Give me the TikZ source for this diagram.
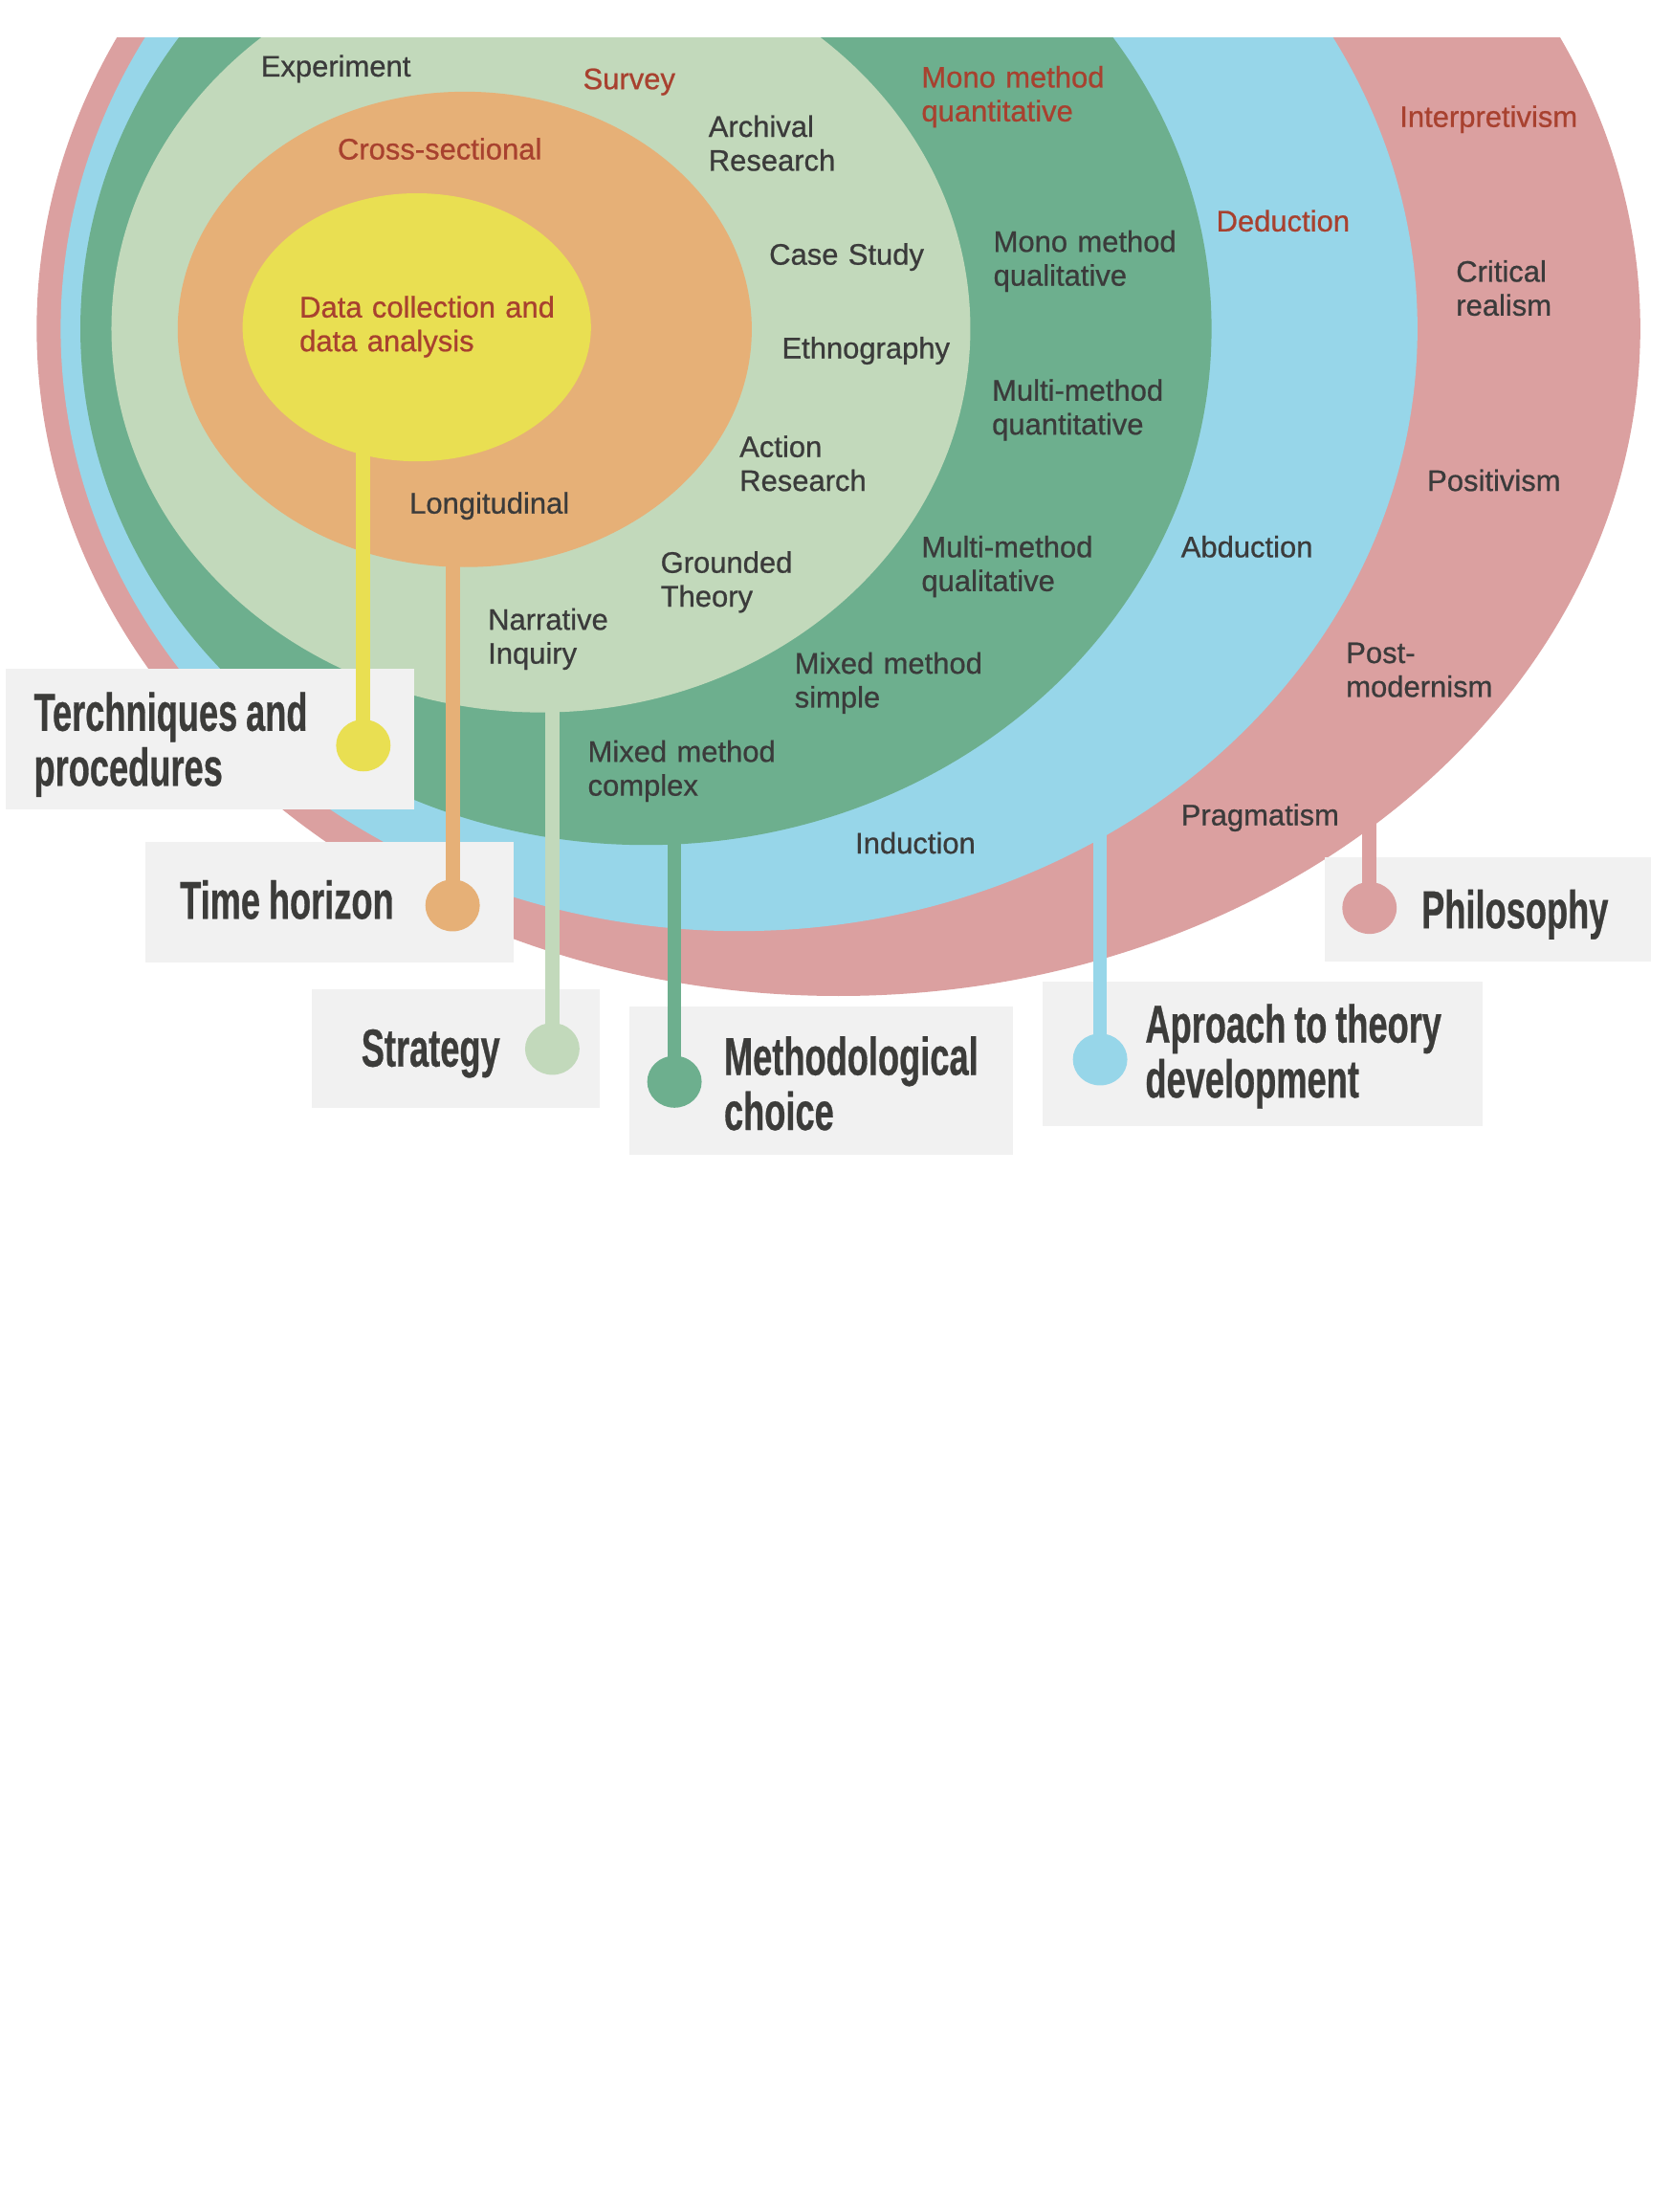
\documentclass[tikz,border=0pt]{standalone}
\usepackage{fontspec}
\setmainfont[FakeBold=0.7]{Liberation Sans}
\newfontfamily\labfont[FakeStretch=0.65,FakeBold=0.5]{Liberation Sans Bold}
\newcommand\mylabsel{\labfont\fontsize{18.9}{19.5}\selectfont}
\newcommand\lsp{\hspace{3pt}}
\usetikzlibrary{shapes.geometric}
\definecolor{cpink}{HTML}{DBA0A0}
\definecolor{cblue}{HTML}{97D6E9}
\definecolor{cdgreen}{HTML}{6DAF8E}
\definecolor{clgreen}{HTML}{C2D9BB}
\definecolor{corange}{HTML}{E6B077}
\definecolor{cyellow}{HTML}{E9DF52}
\definecolor{credtxt}{HTML}{A8412F}
\definecolor{cdarktxt}{HTML}{3B3B3B}
\definecolor{cbox}{HTML}{F1F1F1}
\definecolor{clabtxt}{HTML}{3C3C3A}
\begin{document}
\begin{tikzpicture}[x=0.5pt,y=-0.5pt,
  txt/.style={anchor=base west, inner sep=0pt, align=left, text width=100pt,
    font=\fontsize{10.5}{12}\selectfont, text=cdarktxt},
  redtxt/.style={txt, text=credtxt},
  lab/.style={anchor=base west, inner sep=0pt, align=left, text width=140pt,
    font=\mylabsel, text=clabtxt},
  boxnode/.style={rectangle, fill=cbox, draw=none, inner sep=0pt},
  dotnode/.style={ellipse, minimum width=19.3pt, minimum height=18.4pt, inner sep=0pt, draw=none},
  conn/.style={line width=5pt}
]
\useasboundingbox (0,0) rectangle (1185,1568);
\fill[white] (0,0) rectangle (1185,1568);

% onion layers
\begin{scope}
\clip (0,27) rectangle (1185,1568);
\fill[cpink]   (594.5,233)   ellipse [x radius=284.25pt, y radius=236.5pt];
\fill[cblue]   (524,233)     ellipse [x radius=240.5pt,  y radius=213.5pt];
\fill[cdgreen] (458,233)     ellipse [x radius=200.5pt,  y radius=183pt];
\fill[clgreen] (383.5,233)   ellipse [x radius=152.25pt, y radius=136pt];
\fill[corange] (329.5,233.5) ellipse [x radius=101.75pt, y radius=84.25pt];
\fill[cyellow] (295.5,232)   ellipse [x radius=61.75pt,  y radius=47.5pt];
\end{scope}

% layer texts
\node[txt]    (t1)  at (184.6,54.2) {Experiment};
\node[redtxt] (t2)  at (413,63.2)   {Survey};
\node[txt]    (t3)  at (502,97)     {Archival\\Research};
\node[redtxt] (t4)  at (239,113)    {Cross-sectional};
\node[redtxt] (t5)  at (653,62)     {Mono method\\quantitative};
\node[redtxt] (t6)  at (992,90)     {Interpretivism};
\node[redtxt] (t7)  at (862,164)    {Deduction};
\node[txt]    (t8)  at (545,187.6)  {Case Study};
\node[txt]    (t9)  at (704,178.5)  {Mono method\\qualitative};
\node[txt]    (t10) at (1032,199.7) {Critical\\realism};
\node[redtxt] (t11) at (212,225)    {Data collection and\\data analysis};
\node[txt]    (t12) at (554,254)    {Ethnography};
\node[txt]    (t13) at (703,284)    {Multi-method\\quantitative};
\node[txt]    (t14) at (1011.6,348) {Positivism};
\node[txt]    (t15) at (524,324)    {Action\\Research};
\node[txt]    (t16) at (290,364)    {Longitudinal};
\node[txt]    (t17) at (837,395)    {Abduction};
\node[txt]    (t18) at (653,395)    {Multi-method\\qualitative};
\node[txt]    (t19) at (468,406)    {Grounded\\Theory};
\node[txt]    (t20) at (345.6,446.4){Narrative\\Inquiry};
\node[txt]    (t21) at (954,470)    {Post-\\modernism};
\node[txt]    (t22) at (563,477.5)  {Mixed method\\simple};
\node[txt]    (t23) at (416.4,540)  {Mixed method\\complex};
\node[txt]    (t24) at (837,585)    {Pragmatism};
\node[txt]    (t25) at (606,605)    {Induction};

% label boxes
\node[boxnode, minimum width=144.9pt, minimum height=49.8pt]  (btech) at (148.9,523.8) {};
\node[boxnode, minimum width=130.3pt, minimum height=42.95pt] (btime) at (233.6,639.55) {};
\node[boxnode, minimum width=101.95pt, minimum height=41.95pt] (bstrat) at (322.95,743.15) {};
\node[boxnode, minimum width=135.95pt, minimum height=52.65pt] (bmeth) at (582.25,765.85) {};
\node[boxnode, minimum width=156pt, minimum height=51pt]      (bappr) at (895,747) {};
\node[boxnode, minimum width=115.5pt, minimum height=37.05pt] (bphil) at (1055.1,644.55) {};

% dots
\node[dotnode, fill=cyellow] (ydot) at (257.6,528.4) {};
\node[dotnode, fill=corange] (odot) at (320.9,641.8) {};
\node[dotnode, fill=clgreen] (gdot) at (391.6,743.5) {};
\node[dotnode, fill=cdgreen] (mdot) at (478.2,766.8) {};
\node[dotnode, fill=cblue]   (bdot) at (780,751) {};
\node[dotnode, fill=cpink]   (pdot) at (971,643.6) {};

% connector starts (inside each layer)
\coordinate (ystart) at (257.6,300);
\coordinate (ostart) at (320.9,395);
\coordinate (gstart) at (391.6,498);
\coordinate (mstart) at (478.2,592);
\coordinate (bstart) at (780,586);
\coordinate (pstart) at (971,576);

\draw[conn, cyellow] (ystart) -- (ydot.center);
\draw[conn, corange] (ostart) -- (odot.center);
\draw[conn, clgreen] (gstart) -- (gdot.center);
\draw[conn, cdgreen] (mstart) -- (mdot.center);
\draw[conn, cblue]   (bstart) -- (bdot.center);
\draw[conn, cpink]   (pstart) -- (pdot.center);

% labels
\node[lab] (ltech) at (23.7,518)   {Terchniques\lsp and\\procedures};
\node[lab] (ltime) at (127.2,651.3){Time\lsp horizon};
\node[lab] (lstrat) at (255.8,756) {Strategy};
\node[lab] (lmeth) at (513,762)    {Methodological\\choice};
\node[lab] (lappr) at (811.7,739)  {Aproach\lsp to\lsp theory\\development};
\node[lab] (lphil) at (1007.5,658) {Philosophy};
\end{tikzpicture}
\end{document}
